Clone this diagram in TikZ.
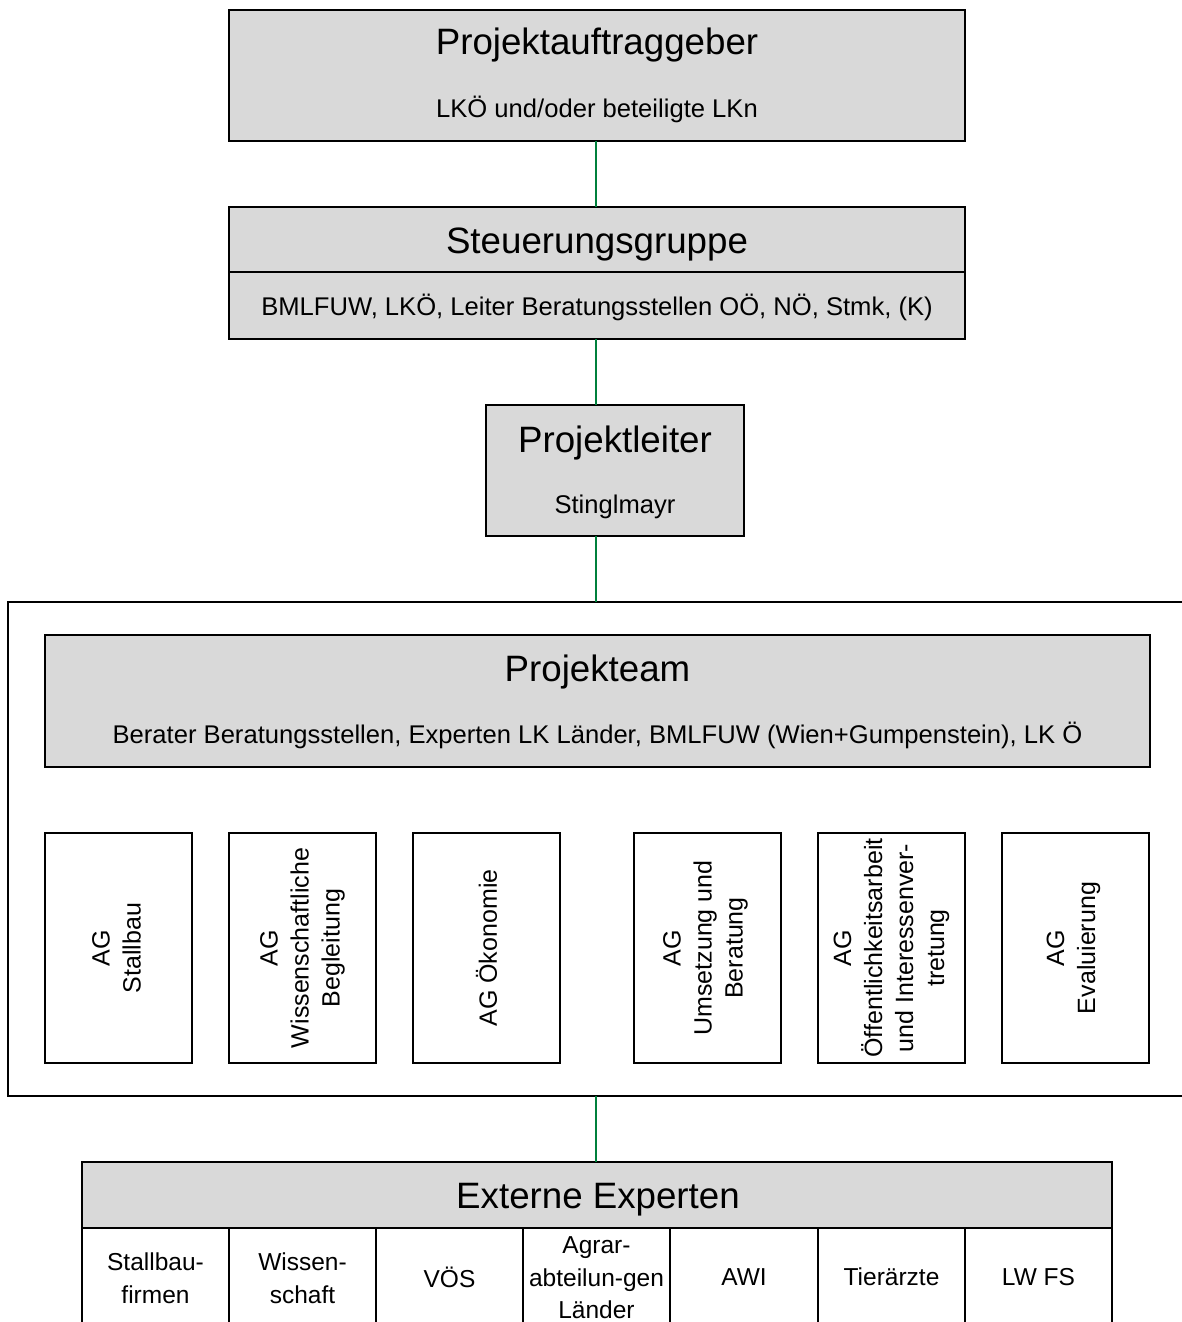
\documentclass[tikz,border=0pt]{standalone}
\usepackage{fontspec}
\setmainfont{Liberation Sans}
\definecolor{boxgray}{RGB}{217,217,217}
\definecolor{linkgreen}{RGB}{0,128,60}
\begin{document}
\begin{tikzpicture}[x=1pt,y=-1pt,
  frame/.style={draw=black, line width=2pt, inner sep=0pt, outer sep=0pt},
  graybox/.style={frame, fill=boxgray},
  whitebox/.style={frame, fill=white},
  bigtxt/.style={font=\fontsize{36.7}{44}\selectfont, inner sep=0pt, anchor=base},
  smalltxt/.style={font=\fontsize{25.6}{31}\selectfont, inner sep=0pt, anchor=base},
  vtxt/.style={font=\fontsize{25}{31}\selectfont, rotate=90, align=center, inner sep=0pt},
  celltxt/.style={font=\fontsize{24.5}{32.5}\selectfont, align=center, inner sep=0pt},
  conn/.style={draw=linkgreen, line width=2pt},
]
\useasboundingbox (0,0) rectangle (1181,1322);
\fill[white] (0,0) rectangle (1181,1322);
\coordinate (spine) at (596,0);

% Projektauftraggeber
\node[graybox, minimum width=736, minimum height=131] (auftrag) at (597,75.5) {};
\node[bigtxt] (auftragT) at (597,55) {Projektauftraggeber};
\node[smalltxt] (auftragS) at (597,117) {LKÖ und/oder beteiligte LKn};

% Steuerungsgruppe
\node[graybox, minimum width=736, minimum height=132] (steer) at (597,273) {};
\draw[line width=2pt] (steer.west |- 0,272) -- (steer.east |- 0,272);
\node[bigtxt] (steerT) at (597,253) {Steuerungsgruppe};
\node[smalltxt] (steerS) at (597,315) {BMLFUW, LKÖ, Leiter Beratungsstellen OÖ, NÖ, Stmk, (K)};

% Projektleiter
\node[graybox, minimum width=258, minimum height=131] (leiter) at (615,470.5) {};
\node[bigtxt] (leiterT) at (615,452) {Projektleiter};
\node[smalltxt] (leiterS) at (615,513) {Stinglmayr};

% Projektteam frame
\node[whitebox, minimum width=1177, minimum height=494] (team) at (596.5,849) {};
\node[graybox, minimum width=1105, minimum height=132] (teamhead) at (597.5,701) {};
\node[bigtxt] (teamT) at (597.5,681) {Projekteam};
\node[smalltxt] (teamS) at (597.5,743) {Berater Beratungsstellen, Experten LK Länder, BMLFUW (Wien+Gumpenstein), LK Ö};

% Arbeitsgruppen
\foreach \nm/\cx in {ag1/118.5, ag2/302.5, ag3/486.5, ag4/707.5, ag5/891.5, ag6/1075.5}
  \node[whitebox, minimum width=147, minimum height=230] (\nm) at (\cx,948) {};
\node[vtxt] (ag1T) at ([xshift=-2]ag1) {AG\\Stallbau};
\node[vtxt] (ag2T) at (ag2) {AG\\Wissenschaftliche\\Begleitung};
\node[vtxt] (ag3T) at (ag3) {AG Ökonomie};
\node[vtxt] (ag4T) at ([xshift=-2]ag4) {AG\\Umsetzung und\\Beratung};
\node[vtxt] (ag5T) at (ag5) {AG\\Öffentlichkeitsarbeit\\und Interessenver-\\tretung};
\node[vtxt] (ag6T) at ([xshift=-2]ag6) {AG\\Evaluierung};

% Externe Experten
\node[graybox, minimum width=1030, minimum height=66] (ext) at (597,1195) {};
\node[bigtxt] (extT) at (598,1208) {Externe Experten};
\foreach \nm/\cx/\w in {c1/155.5/147, c2/302.5/147, c3/449.5/147, c4/596.5/147, c5/744/148, c6/891.5/147, c7/1038.5/147}
  \node[whitebox, minimum width=\w, minimum height=117] (\nm) at (\cx,1286.5) {};
\node[celltxt] (c1T) at (155.5,1278) {Stallbau-\\firmen};
\node[celltxt] (c2T) at (302.5,1278) {Wissen-\\schaft};
\node[celltxt] (c3T) at (449.5,1277) {VÖS};
\node[celltxt] (c4T) at (596.5,1278) {Agrar-\\abteilun-gen\\Länder};
\node[celltxt] (c5T) at (744,1277) {AWI};
\node[celltxt] (c6T) at (891.5,1277) {Tierärzte};
\node[celltxt] (c7T) at (1038.5,1277) {LW FS};

% Verbindungen
\draw[conn] (auftrag.south -| spine) -- (steer.north -| spine);
\draw[conn] (steer.south -| spine) -- (leiter.north -| spine);
\draw[conn] (leiter.south -| spine) -- (team.north -| spine);
\draw[conn] (team.south -| spine) -- (ext.north -| spine);
\end{tikzpicture}
\end{document}
